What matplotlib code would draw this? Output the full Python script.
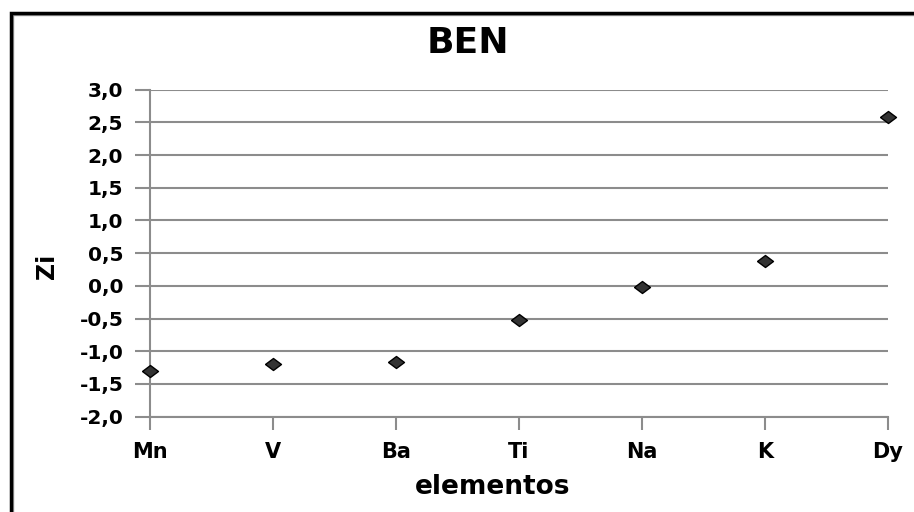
import matplotlib.pyplot as plt
from matplotlib.patches import Rectangle
from matplotlib.ticker import FuncFormatter, MultipleLocator

# datos
elementos = ['Mn', 'V', 'Ba', 'Ti', 'Na', 'K', 'Dy']
zi = [-1.30, -1.20, -1.17, -0.52, -0.02, 0.38, 2.59]

plt.rcParams['font.family'] = 'DejaVu Sans'
plt.rcParams['font.weight'] = 'bold'

W, H = 914, 512
fig = plt.figure(figsize=(W / 100, H / 100), dpi=100)
ax = fig.add_axes([149.7 / W, 1 - 416.7 / H, (888 - 149.7) / W, (416.7 - 89.7) / H])

gris = '#8c8c8c'
# rombo un poco achatado, como en la imagen
rombo = [(-1, 0), (0, 0.75), (1, 0), (0, -0.75), (-1, 0)]
x = list(range(len(elementos)))
ax.plot(x, zi, linestyle='none', marker=rombo, markersize=11.5,
        markerfacecolor='#333333', markeredgecolor='black', markeredgewidth=1.0,
        clip_on=False, zorder=5)

ax.set_xlim(0, len(elementos) - 1)
ax.set_ylim(-2.0, 3.0)
ax.set_xticks(x)
ax.set_xticklabels(elementos)
ax.yaxis.set_major_locator(MultipleLocator(0.5))
ax.yaxis.set_major_formatter(FuncFormatter(lambda v, p: f'{v:.1f}'.replace('.', ',')))
ax.grid(axis='y', color=gris, linewidth=1.5)
ax.set_axisbelow(True)

for s in ['top', 'right']:
    ax.spines[s].set_visible(False)
for s in ['left', 'bottom']:
    ax.spines[s].set_color(gris)
    ax.spines[s].set_linewidth(1.5)

ax.tick_params(axis='y', length=11, width=1.5, color=gris, pad=8, labelsize=14.5)
ax.tick_params(axis='x', length=9, width=1.5, color=gris, pad=9, labelsize=15)
for lbl in ax.get_xticklabels() + ax.get_yticklabels():
    lbl.set_fontweight('bold')

fig.text(468 / W, 1 - 43 / H, 'BEN', ha='center', va='center', fontsize=26, fontweight='bold')
fig.text(493 / W, 1 - 487 / H, 'elementos', ha='center', va='center', fontsize=19, fontweight='bold')
fig.text(47 / W, 1 - 266 / H, 'Zi', ha='center', va='center', rotation=90, fontsize=17, fontweight='bold')

# marco del gráfico
fig.patches.append(Rectangle((12.5 / W, -0.2), 1.2, 1.2 - 15 / H, transform=fig.transFigure,
                             fill=False, edgecolor='#9a9a9a', linewidth=1.0))
fig.patches.append(Rectangle((10.5 / W, -0.2), 1.2, 1.2 - 12.5 / H, transform=fig.transFigure,
                             fill=False, edgecolor='black', linewidth=2.5))

fig.savefig('out.png', dpi=100)
